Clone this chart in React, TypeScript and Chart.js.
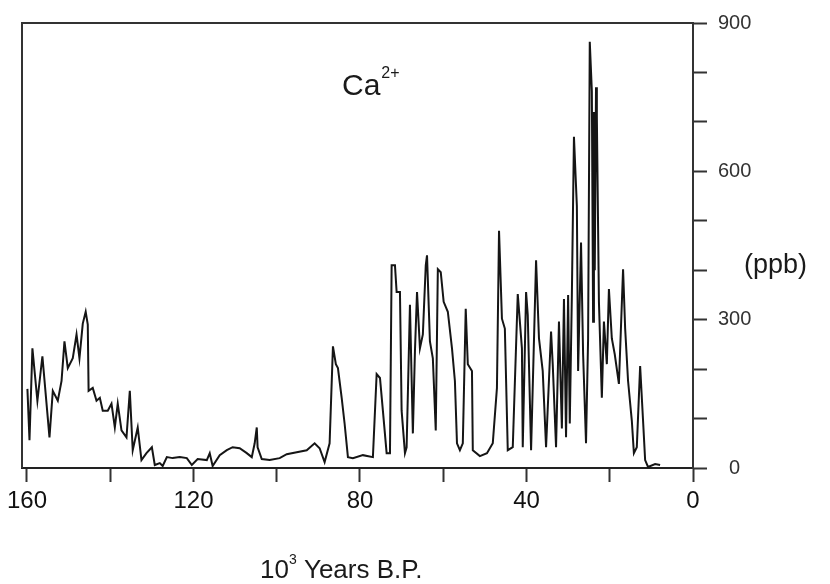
import React, { useEffect, useRef } from 'react';
import { Chart, registerables } from 'chart.js';

Chart.register(...registerables);

// Age (10^3 years B.P.)
const ages = [
  159.9, 159.4, 158.7, 157.5, 156.3, 154.6, 153.8, 152.6, 151.7, 151.0,
  150.2, 149.0, 148.1, 147.4, 146.6, 145.9, 145.4, 145.2, 144.2, 143.3,
  142.5, 141.8, 140.6, 139.7, 138.9, 138.2, 137.3, 136.1, 135.3, 134.6,
  133.4, 132.5, 131.3, 130.0, 129.3, 128.1, 127.4, 126.4, 125.0, 123.3,
  121.6, 120.4, 119.0, 116.8, 116.1, 115.4, 113.7, 112.0, 110.6, 108.9,
  107.2, 106.0, 105.3, 104.8, 104.6, 103.6, 101.7, 99.3, 97.6, 95.2,
  92.8, 90.9, 89.7, 88.5, 87.3, 86.5, 85.8, 85.3, 84.4, 83.7,
  82.9, 81.7, 79.3, 76.9, 76.0, 75.2, 74.5, 73.6, 72.8, 72.4,
  71.6, 71.2, 70.4, 70.0, 69.2, 68.8, 68.0, 67.3, 66.8, 66.3,
  65.6, 64.9, 64.2, 63.9, 63.2, 62.5, 61.8, 61.3, 60.6, 59.9,
  58.9, 57.9, 57.2, 56.7, 56.0, 55.3, 54.6, 54.1, 53.1, 52.9,
  51.2, 49.5, 48.1, 47.1, 46.6, 45.9, 45.2, 44.5, 43.3, 42.1,
  41.1, 40.9, 40.1, 39.7, 38.9, 37.7, 37.0, 36.1, 35.3, 34.1,
  33.7, 32.9, 32.2, 31.5, 31.0, 30.5, 30.0, 29.6, 29.1, 28.6,
  27.9, 27.6, 26.9, 26.4, 25.7, 25.2, 24.8, 24.3, 24.0, 23.8,
  23.6, 23.3, 23.1, 22.6, 21.9, 21.4, 20.7, 20.2, 19.5, 18.8,
  17.8, 16.8, 16.3, 15.6, 14.7, 14.2, 13.5, 12.7, 12.0, 11.5,
  10.8, 9.1, 7.9,
];

// Ca2+ concentration (ppb)
const caValues = [
  160, 56, 242, 136, 226, 62, 156, 136, 176, 256,
  202, 222, 270, 222, 292, 316, 290, 156, 162, 136,
  142, 116, 116, 130, 82, 130, 76, 62, 156, 36,
  82, 16, 30, 42, 6, 10, 4, 22, 20, 22,
  20, 6, 18, 16, 30, 4, 26, 36, 42, 40,
  30, 22, 50, 82, 42, 18, 16, 20, 28, 32,
  36, 50, 40, 12, 50, 246, 210, 202, 142, 90,
  22, 20, 26, 22, 190, 182, 116, 30, 30, 410,
  410, 356, 356, 116, 30, 42, 330, 70, 236, 356,
  242, 270, 410, 430, 256, 222, 76, 402, 396, 336,
  316, 242, 176, 50, 36, 50, 322, 210, 196, 36,
  24, 30, 50, 162, 480, 302, 282, 36, 42, 352,
  242, 42, 356, 310, 36, 420, 262, 196, 42, 276,
  210, 42, 296, 80, 342, 62, 350, 90, 350, 670,
  530, 196, 456, 230, 50, 262, 862, 762, 296, 720,
  400, 770, 710, 336, 142, 296, 210, 362, 262, 230,
  170, 402, 282, 176, 96, 30, 42, 206, 96, 16,
  2, 8, 6,
];

const xTickValues = [0, 20, 40, 60, 80, 100, 120, 140, 160];
const xLabelValues = [0, 40, 80, 120, 160];
const yTickValues = [0, 100, 200, 300, 400, 500, 600, 700, 800, 900];
const yLabelValues = [0, 300, 600, 900];

const SANS = "'Liberation Sans', Arial, Helvetica, sans-serif";

const framePlugin = {
  id: 'frame',
  afterDraw(chart: any) {
    const { ctx, chartArea } = chart;
    ctx.save();
    ctx.strokeStyle = '#333';
    ctx.lineWidth = 2;
    ctx.beginPath();
    ctx.moveTo(chartArea.left, chartArea.bottom);
    ctx.lineTo(chartArea.left, chartArea.top);
    ctx.lineTo(chartArea.right, chartArea.top);
    ctx.stroke();

    ctx.fillStyle = '#1a1a1a';
    ctx.textBaseline = 'alphabetic';
    ctx.textAlign = 'left';

    // Species label
    ctx.font = `30px ${SANS}`;
    ctx.fillText('Ca', 342, 95);
    const w = ctx.measureText('Ca').width;
    ctx.font = `16px ${SANS}`;
    ctx.fillText('2+', 342 + w + 1, 78);

    // Unit label
    ctx.font = `27px ${SANS}`;
    ctx.textBaseline = 'middle';
    ctx.fillText('(ppb)', 744, 266);

    // Axis title
    ctx.textBaseline = 'alphabetic';
    ctx.font = `26px ${SANS}`;
    let x = 260;
    const base = 578;
    ctx.fillText('10', x, base);
    x += ctx.measureText('10').width;
    ctx.font = `14px ${SANS}`;
    ctx.fillText('3', x, base - 14);
    x += ctx.measureText('3').width;
    ctx.font = `26px ${SANS}`;
    ctx.fillText(' Years B.P.', x, base);
    ctx.restore();
  },
};

export default function App() {
  const ref = useRef<HTMLCanvasElement | null>(null);

  useEffect(() => {
    document.body.style.margin = '0';
    const canvas = ref.current;
    if (!canvas) return;
    const chart = new Chart(canvas, {
      type: 'line',
      data: {
        datasets: [
          {
            data: ages.map((a, i) => ({ x: a, y: caValues[i] })),
            borderColor: '#151515',
            borderWidth: 2,
            pointRadius: 0,
            tension: 0,
            fill: false,
          },
        ],
      },
      options: {
        animation: false,
        responsive: false,
        layout: { padding: { left: 22, top: 19, right: 0, bottom: 0 } },
        plugins: { legend: { display: false }, tooltip: { enabled: false } },
        scales: {
          x: {
            type: 'linear',
            reverse: true,
            min: 0,
            max: 161.2,
            afterBuildTicks: (s: any) => {
              s.ticks = xTickValues.map((v) => ({ value: v }));
            },
            afterFit: (s: any) => {
              s.height = 116;
            },
            grid: {
              drawOnChartArea: false,
              drawTicks: true,
              tickLength: 14,
              tickColor: '#333',
              tickWidth: 2,
            },
            border: { color: '#222', width: 2 },
            ticks: {
              callback: (v: any) => (xLabelValues.includes(Number(v)) ? String(v) : ''),
              font: { family: SANS, size: 24 },
              color: '#111',
              padding: 5,
              maxRotation: 0,
              autoSkip: false,
            },
          },
          y: {
            position: 'right',
            min: 0,
            max: 900,
            afterBuildTicks: (s: any) => {
              s.ticks = yTickValues.map((v) => ({ value: v }));
            },
            afterFit: (s: any) => {
              s.width = 137;
            },
            grid: {
              drawOnChartArea: false,
              drawTicks: true,
              tickLength: 14,
              tickColor: '#333',
              tickWidth: 2,
            },
            border: { color: '#333', width: 2 },
            ticks: {
              callback: (v: any) => (yLabelValues.includes(Number(v)) ? String(v) : ''),
              font: { family: SANS, size: 20 },
              color: '#333',
              padding: 11,
              crossAlign: 'center',
              autoSkip: false,
            },
          },
        },
      },
      plugins: [framePlugin],
    } as any);
    return () => chart.destroy();
  }, []);

  return (
    <div style={{ width: 830, height: 584 }}>
      <canvas ref={ref} width={830} height={584} style={{ display: 'block' }} />
    </div>
  );
}
